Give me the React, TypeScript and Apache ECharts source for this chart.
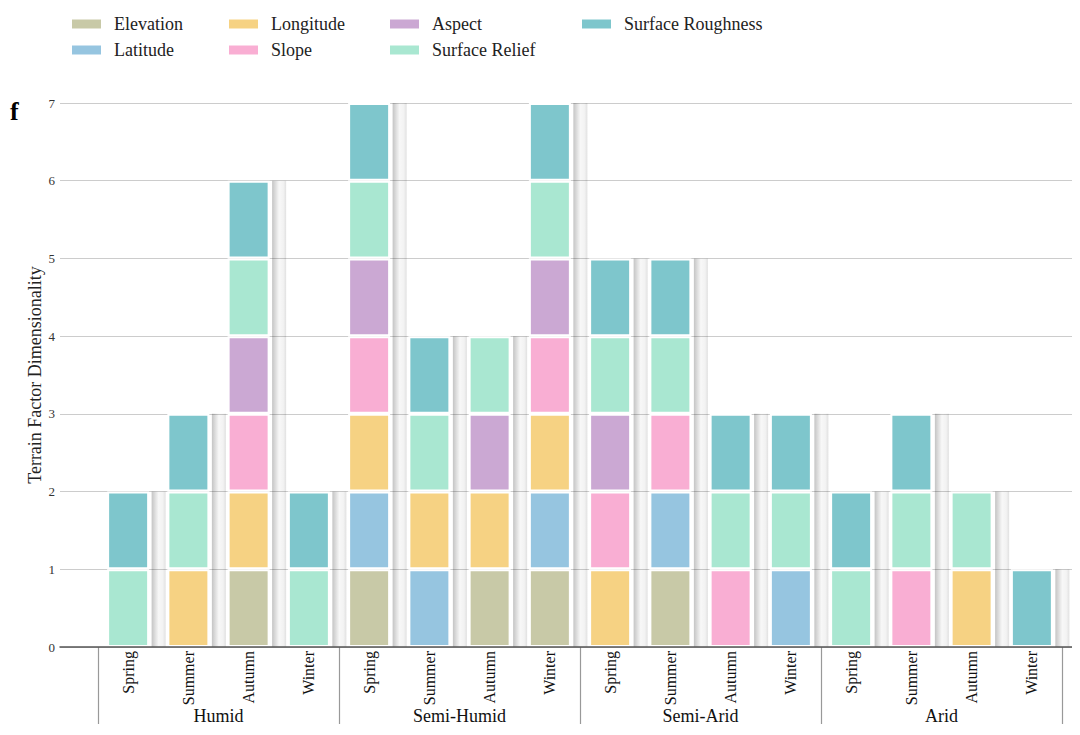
import React, { useEffect, useRef } from "react";
import * as echarts from "echarts";

const seasons = ["Spring", "Summer", "Autumn", "Winter"];
const zones = ["Humid", "Semi-Humid", "Semi-Arid", "Arid"];
const yTicks = [0, 1, 2, 3, 4, 5, 6, 7];

const factorNames = ["Elevation", "Latitude", "Longitude", "Slope", "Aspect", "Surface Relief", "Surface Roughness"];
const factorColors = ["#c8c9a7", "#96c5e0", "#f6d283", "#f9aed3", "#cba8d3", "#a9e7d1", "#7ec6cc"];

// order: Humid (Sp,Su,Au,Wi), Semi-Humid, Semi-Arid, Arid
const elevation = [0, 0, 1, 0, 1, 0, 1, 1, 0, 1, 0, 0, 0, 0, 0, 0];
const latitude = [0, 0, 0, 0, 1, 1, 0, 1, 0, 1, 0, 1, 0, 0, 0, 0];
const longitude = [0, 1, 1, 0, 1, 1, 1, 1, 1, 0, 0, 0, 0, 0, 1, 0];
const slope = [0, 0, 1, 0, 1, 0, 0, 1, 1, 1, 1, 0, 0, 1, 0, 0];
const aspect = [0, 0, 1, 0, 1, 0, 1, 1, 1, 0, 0, 0, 0, 0, 0, 0];
const surfaceRelief = [1, 1, 1, 1, 1, 1, 1, 1, 1, 1, 1, 1, 1, 1, 1, 0];
const surfaceRoughness = [1, 1, 1, 1, 1, 1, 0, 1, 1, 1, 1, 1, 1, 1, 0, 1];

const factorValues = [elevation, latitude, longitude, slope, aspect, surfaceRelief, surfaceRoughness];

const FONT = "Liberation Serif";

export default function App() {
  const ref = useRef<HTMLDivElement>(null);
  useEffect(() => {
    if (!ref.current) return;
    const chart = echarts.init(ref.current, undefined, { renderer: "svg" });
    const categories = zones.flatMap(() => seasons);
    const totals = categories.map((_, i) => factorValues.reduce((s, arr) => s + arr[i], 0));

    const barSeries = factorNames.map((name, k) => ({
      name,
      type: "bar",
      stack: "total",
      xAxisIndex: 1,
      yAxisIndex: 1,
      barWidth: 42,
      itemStyle: { color: factorColors[k], borderColor: "#ffffff", borderWidth: 2 },
      data: factorValues[k].map((v) => (v ? v : "-")),
      z: 3,
    }));

    const stripGradient = new echarts.graphic.LinearGradient(0, 0, 1, 0, [
      { offset: 0, color: "rgba(0,0,0,0.23)" },
      { offset: 0.5, color: "rgba(0,0,0,0.03)" },
      { offset: 0.8, color: "rgba(0,0,0,0.05)" },
      { offset: 1, color: "rgba(0,0,0,0.12)" },
    ]);

    const stripSeries = {
      type: "custom",
      xAxisIndex: 1,
      yAxisIndex: 1,
      silent: true,
      z: 2,
      data: totals.map((t, i) => [i, t]),
      encode: { x: 0, y: 1 },
      renderItem: (params: any, api: any) => {
        const idx = api.value(0);
        const total = api.value(1);
        const p0 = api.coord([idx, 0]);
        const p1 = api.coord([idx, total]);
        return {
          type: "rect",
          shape: { x: p0[0] + 23.5, y: p1[1], width: 14, height: p0[1] - p1[1] },
          style: { fill: stripGradient },
        };
      },
    };

    const legendBase = {
      orient: "vertical",
      top: 10,
      itemWidth: 31,
      itemHeight: 11,
      itemGap: 8,
      icon: "rect",
      textStyle: { fontFamily: FONT, fontSize: 18, color: "#222", padding: [0, 0, 0, 7] },
    };

    chart.setOption({
      animation: false,
      textStyle: { fontFamily: FONT },
      legend: [
        { ...legendBase, left: 65, data: ["Elevation", "Latitude"] },
        { ...legendBase, left: 222, data: ["Longitude", "Slope"] },
        { ...legendBase, left: 383, data: ["Aspect", "Surface Relief"] },
        { ...legendBase, left: 575, data: ["Surface Roughness"] },
      ],
      graphic: [
        {
          type: "text",
          left: 10,
          top: 98,
          style: { text: "f", fontFamily: FONT, fontSize: 26, fontWeight: "bold", fill: "#000" },
        },
      ],
      grid: [
        { left: 60, right: 8, top: 103, bottom: 88 },
        { left: 98, right: 18, top: 103, bottom: 88 },
      ],
      xAxis: [
        {
          type: "value",
          gridIndex: 0,
          min: 0,
          max: 1,
          z: 5,
          axisLine: { show: true, lineStyle: { color: "#555", width: 1.5 } },
          axisTick: { show: false },
          axisLabel: { show: false },
          splitLine: { show: false },
        },
        {
          type: "category",
          gridIndex: 1,
          data: categories,
          axisLine: { show: false },
          axisTick: { show: false },
          axisLabel: {
            rotate: 90,
            margin: 4,
            interval: 0,
            fontFamily: FONT,
            fontSize: 16,
            color: "#111",
          },
        },
        {
          type: "category",
          gridIndex: 1,
          position: "bottom",
          data: zones,
          axisLine: { show: false },
          axisTick: { show: true, length: 77, lineStyle: { color: "#999", width: 1.2 } },
          axisLabel: { margin: 60, interval: 0, fontFamily: FONT, fontSize: 18, color: "#111" },
        },
      ],
      yAxis: [
        {
          type: "value",
          gridIndex: 0,
          min: 0,
          max: 7,
          interval: 1,
          name: "Terrain Factor Dimensionality",
          nameLocation: "middle",
          nameGap: 16,
          nameMoveOverlap: false,
          nameTextStyle: { fontFamily: FONT, fontSize: 18, color: "#222" },
          axisLine: { show: false },
          axisTick: { show: false },
          axisLabel: {
            margin: 5,
            fontFamily: FONT,
            fontSize: 13,
            color: "#333",
            formatter: (v: number) => (yTicks.includes(v) ? String(v) : ""),
          },
          splitLine: { show: true, lineStyle: { color: "#cccccc", width: 1.2 } },
        },
        {
          type: "value",
          gridIndex: 1,
          min: 0,
          max: 7,
          interval: 1,
          show: false,
          splitLine: { show: false },
        },
      ],
      series: [...barSeries, stripSeries],
    });
    return () => chart.dispose();
  }, []);
  return <div ref={ref} style={{ width: 1080, height: 735, margin: -8 }} />;
}
